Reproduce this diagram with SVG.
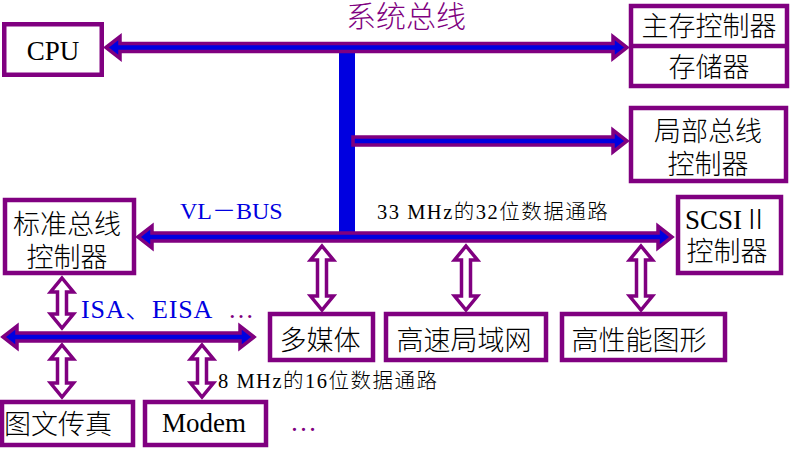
<svg xmlns="http://www.w3.org/2000/svg" width="798" height="452" viewBox="0 0 798 452">
<style>
.box{fill:#fff;stroke:#800080;stroke-width:4.5}
.bus{fill:#0000E0;stroke:#800080;stroke-width:3.5;stroke-linejoin:miter}
.dbl{fill:#fff;stroke:#800080;stroke-width:3.5;stroke-linejoin:miter}
text{font-weight:300}
.t{font-family:"Liberation Serif","Noto Sans CJK SC",serif;font-size:27px;fill:#000;text-anchor:middle}
.s{font-family:"Liberation Serif","Noto Sans CJK SC",serif;font-size:20.5px;fill:#000;letter-spacing:1.5px}
.b{font-family:"Liberation Serif","Noto Sans CJK SC",serif;fill:#0000E0}
.p{font-family:"Liberation Serif","Noto Sans CJK SC",serif;fill:#800080}
</style>
<rect width="798" height="452" fill="#fff"/>
<g id="connectors">
<rect x="339" y="50" width="16" height="184" fill="#0000E0"/>
<path class="bus" d="M106,47.5 L120,36.5 L120,43.5 L613,43.5 L613,36.5 L627,47.5 L613,58.5 L613,51.5 L120,51.5 L120,58.5 Z"/>
<path class="bus" d="M353,137 L613,137 L613,130 L627,141 L613,152 L613,145 L353,145 Z"/>
<path class="bus" d="M138,237 L152,226 L152,233 L658,233 L658,226 L672,237 L658,248 L658,241 L152,241 L152,248 Z"/>
<path class="bus" d="M3,337 L17,326 L17,333 L240,333 L240,326 L254,337 L240,348 L240,341 L17,341 L17,348 Z"/>
<path class="dbl" d="M62,278 L73.5,292 L66.5,292 L66.5,314 L73.5,314 L62,328 L50.5,314 L57.5,314 L57.5,292 L50.5,292 Z"/>
<path class="dbl" d="M62,345 L73.5,359 L66.5,359 L66.5,383 L73.5,383 L62,397 L50.5,383 L57.5,383 L57.5,359 L50.5,359 Z"/>
<path class="dbl" d="M202,345 L213.5,359 L206.5,359 L206.5,383 L213.5,383 L202,397 L190.5,383 L197.5,383 L197.5,359 L190.5,359 Z"/>
<path class="dbl" d="M322,246 L333.5,260 L326.5,260 L326.5,296 L333.5,296 L322,310 L310.5,296 L317.5,296 L317.5,260 L310.5,260 Z"/>
<path class="dbl" d="M466,246 L477.5,260 L470.5,260 L470.5,296 L477.5,296 L466,310 L454.5,296 L461.5,296 L461.5,260 L454.5,260 Z"/>
<path class="dbl" d="M641,246 L652.5,260 L645.5,260 L645.5,296 L652.5,296 L641,310 L629.5,296 L636.5,296 L636.5,260 L629.5,260 Z"/>
</g>
<g id="labels">
<text class="p" x="406" y="27" font-size="30" text-anchor="middle">系统总线</text>
<text class="b" x="180" y="219" font-size="24">VL－BUS</text>
<text class="s" x="377" y="219">33 MHz的32位数据通路</text>
<text class="b" x="81" y="318" font-size="26" letter-spacing="0.8">ISA、EISA</text>
<text class="p" x="228" y="318" font-size="26">…</text>
<text class="s" x="218" y="388">8 MHz的16位数据通路</text>
<text class="p" x="290" y="431" font-size="27">…</text>
</g>
<g id="cpu"><rect class="box" x="4.25" y="24.25" width="97.5" height="50.5"/><text class="t" x="53" y="60">CPU</text></g>
<g id="memory"><rect class="box" x="631" y="6" width="156" height="80"/><line x1="631" y1="46" x2="787" y2="46" stroke="#800080" stroke-width="4.5"/><text class="t" x="709" y="36">主存控制器</text><text class="t" x="709" y="77">存储器</text></g>
<g id="local-bus-ctrl"><rect class="box" x="631" y="108" width="155" height="73"/><text class="t" x="708" y="141">局部总线</text><text class="t" x="708" y="174">控制器</text></g>
<g id="std-bus-ctrl"><rect class="box" x="5" y="200" width="129" height="73"/><text class="t" x="67" y="234">标准总线</text><text class="t" x="67" y="267">控制器</text></g>
<g id="scsi"><rect class="box" x="678" y="197" width="103" height="76"/><text class="t" x="727" y="229">SCSIⅡ</text><text class="t" x="727" y="261">控制器</text></g>
<g id="multimedia"><rect class="box" x="270" y="314" width="103" height="46"/><text class="t" x="320" y="350">多媒体</text></g>
<g id="lan"><rect class="box" x="386" y="314" width="160" height="46"/><text class="t" x="464" y="350">高速局域网</text></g>
<g id="graphics"><rect class="box" x="562" y="314" width="163" height="46"/><text class="t" x="639" y="350">高性能图形</text></g>
<g id="fax"><rect class="box" x="2" y="402" width="131" height="43"/><text class="t" x="58" y="434">图文传真</text></g>
<g id="modem"><rect class="box" x="145" y="402" width="121" height="43"/><text class="t" x="204" y="432">Modem</text></g>
</svg>
